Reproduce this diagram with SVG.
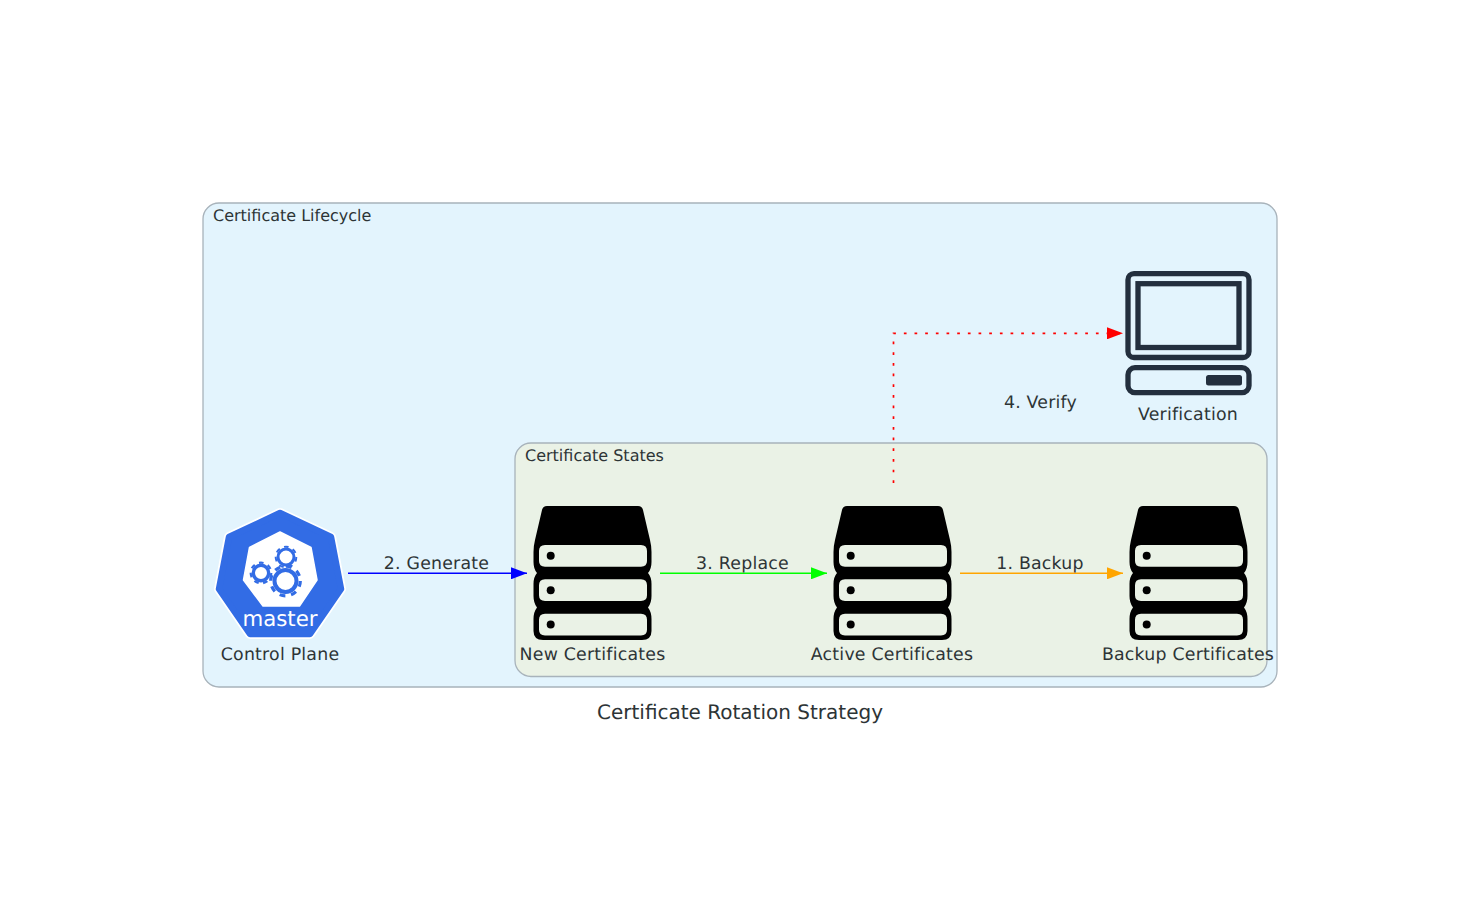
<svg xmlns="http://www.w3.org/2000/svg" width="1480" height="923" viewBox="0 0 1480 923">
<style>
text{font-family:"DejaVu Sans",sans-serif;fill:#2d3436;font-size:17.330px;letter-spacing:.22px;text-rendering:geometricPrecision}
.t{font-size:16px;letter-spacing:0}
.m{text-anchor:middle}
.cl{stroke:#a8b3bb;stroke-width:1.3}
.e{fill:none;stroke-width:1.400}
.g{fill:none;stroke:#326ce5}
</style>
<defs>
<marker id="ab" markerUnits="userSpaceOnUse" markerWidth="17" markerHeight="12" refX="16" refY="6" orient="auto"><path d="M0 0L16 6L0 12Z" fill="#0000ff"/></marker>
<marker id="ag" markerUnits="userSpaceOnUse" markerWidth="17" markerHeight="12" refX="16" refY="6" orient="auto"><path d="M0 0L16 6L0 12Z" fill="#00ff00"/></marker>
<marker id="ao" markerUnits="userSpaceOnUse" markerWidth="17" markerHeight="12" refX="16" refY="6" orient="auto"><path d="M0 0L16 6L0 12Z" fill="#ffa500"/></marker>
<marker id="ar" markerUnits="userSpaceOnUse" markerWidth="17" markerHeight="12" refX="16" refY="6" orient="auto"><path d="M0 0L16 6L0 12Z" fill="#ff0000"/></marker>
<g id="srv">
<path fill-rule="evenodd" d="M547 506H638Q642 506 643 510L650 540Q651.500 546 651.500 552V562Q651.500 569 648 573Q651.500 577 651.500 584V596Q651.500 603 648 607.500Q651.500 612 651.500 619V631Q651.500 640 642 640H543Q533.500 640 533.500 631V619Q533.500 612 537 607.500Q533.500 603 533.500 596V584Q533.500 577 537 573Q533.500 569 533.500 562V552Q533.500 546 535 540L542 510Q543 506 547 506ZM545 545Q539 545 539 551V561Q539 566.700 545 566.700H641Q647 566.700 647 561V551Q647 545 641 545ZM545 579.300Q539 579.300 539 585.300V595.300Q539 601 545 601H641Q647 601 647 595.300V585.300Q647 579.300 641 579.300ZM545 613.800Q539 613.800 539 619.800V629.800Q539 635.500 545 635.500H641Q647 635.500 647 629.800V619.800Q647 613.800 641 613.800Z" fill="#000"/>
<circle cx="550.700" cy="555.700" r="4"/><circle cx="550.700" cy="590.200" r="4"/><circle cx="550.700" cy="624.500" r="4"/>
</g>
</defs>
<rect width="1480" height="923" fill="#fff"/>
<g id="cluster-lifecycle"><rect class="cl" x="203" y="203" width="1074" height="484" rx="16" fill="#e3f4fd"/><text class="t" x="213" y="221">Certificate Lifecycle</text></g>
<g id="cluster-states"><rect class="cl" x="515" y="443" width="752" height="233.500" rx="16" fill="#eaf2e6"/><text class="t" x="525" y="461">Certificate States</text></g>
<g id="connectors">
<path class="e" d="M348 573.300H527" stroke="#0000ff" marker-end="url(#ab)"/>
<path class="e" d="M660 573.300H827" stroke="#00ff00" marker-end="url(#ag)"/>
<path class="e" d="M960 573.300H1123" stroke="#ffa500" marker-end="url(#ao)"/>
<path class="e" d="M893.500 483V333.300H1123" stroke="#ff0000" style="stroke-width:1.7" stroke-dasharray="2.700 7.970" marker-end="url(#ar)"/>
<text class="m" x="436.500" y="569.300">2. Generate</text>
<text class="m" x="742.500" y="569.300">3. Replace</text>
<text class="m" x="1040" y="569.300">1. Backup</text>
<text class="m" x="1040.500" y="407.500">4. Verify</text>
</g>
<g id="node-control-plane">
<path d="M280 513L331 537L341 589L310 634H250L219 589L229 537Z" fill="#fff" stroke="#fff" stroke-width="10" stroke-linejoin="round"/>
<path d="M280 513L331 537L341 589L310 634H250L219 589L229 537Z" fill="#326ce5" stroke="#326ce5" stroke-width="6.500" stroke-linejoin="round"/>
<path d="M280 532L311 547.500L317 580L299.500 606H263L243.500 580L249.500 547.500Z" fill="#fff" stroke="#fff" stroke-width="1.500" stroke-linejoin="round"/>
<circle class="g" cx="285.500" cy="581" r="11" stroke-width="4"/><circle class="g" cx="285.500" cy="581" r="14.800" stroke-width="3.200" stroke-dasharray="5.810 5.810"/>
<circle class="g" cx="286" cy="557" r="8" stroke-width="3"/><circle class="g" cx="286" cy="557" r="10.300" stroke-width="2" stroke-dasharray="4.620 4.620"/>
<circle class="g" cx="261" cy="573" r="7.700" stroke-width="3.400"/><circle class="g" cx="261" cy="573" r="10.300" stroke-width="2.200" stroke-dasharray="4.620 4.620"/>
<text class="m" x="280" y="626.300" style="fill:#fff;font-size:21.300px;letter-spacing:0">master</text>
<text class="m" x="280" y="660.400">Control Plane</text>
</g>
<g id="node-new"><use href="#srv"/><text class="m" x="592.500" y="660.400">New Certificates</text></g>
<g id="node-active"><use href="#srv" x="300"/><text class="m" x="892" y="660.400">Active Certificates</text></g>
<g id="node-backup"><use href="#srv" x="596"/><text class="m" x="1188" y="660.400">Backup Certificates</text></g>
<g id="node-verification">
<g fill="none" stroke="#232f3e" stroke-width="5.300">
<rect x="1128" y="273.700" width="121" height="83.800" rx="6"/>
<rect x="1138" y="283.700" width="101" height="63.800"/>
<rect x="1128" y="367.700" width="121" height="25" rx="7"/>
</g>
<rect x="1206" y="375" width="36" height="10.500" rx="2.500" fill="#232f3e"/>
<text class="m" x="1188" y="420.400">Verification</text>
</g>
<text class="m" x="740" y="718.500" style="font-size:20px;letter-spacing:0">Certificate Rotation Strategy</text>
</svg>
